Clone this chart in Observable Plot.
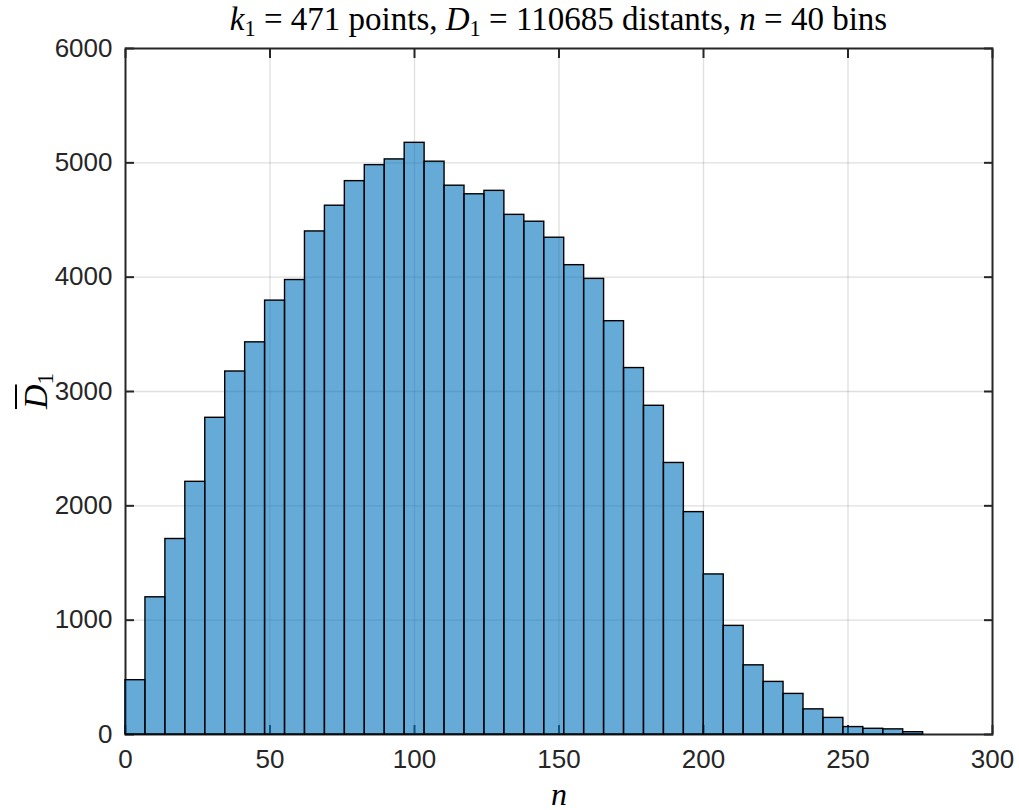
<!DOCTYPE html>
<html>
<head>
<meta charset="utf-8">
<script src="https://cdn.jsdelivr.net/npm/d3@7"></script>
<script src="https://cdn.jsdelivr.net/npm/@observablehq/plot@0.6"></script>
<style>
  body { margin: 0; background: #fff; }
  #wrap { position: relative; width: 1019px; height: 810px; background: #fff; }
  #title { position: absolute; top: 1px; left: 125px; width: 867px; text-align: center;
           font-family: "Liberation Serif", "DejaVu Serif", serif; font-size: 33px; color: #000; white-space: nowrap; }
  #title sub, #ylab sub { font-size: 0.68em; vertical-align: -0.28em; line-height: 0; font-style: normal; }
  #ylab { position: absolute; left: 36px; top: 391px; transform: translate(-50%, -50%) rotate(-90deg);
          font-family: "Liberation Serif", "DejaVu Serif", serif; font-size: 34px; color: #000; white-space: nowrap; }
  #ylab .ol { text-decoration: overline; text-decoration-thickness: 2px; }
</style>
</head>
<body>
<div id="wrap">
  <div id="chart"></div>
  <div id="title"><i>k</i><sub>1</sub> = 471 points, <i>D</i><sub>1</sub> = 110685 distants, <i>n</i> = 40 bins</div>
  <div id="ylab"><span class="ol"><i>D</i></span><sub>1</sub></div>
</div>
<script>
// Histogram counts (40 bins)
const counts = [475, 1200, 1710, 2210, 2770, 3175, 3430, 3795, 3975, 4400,
                4625, 4840, 4980, 5030, 5175, 5010, 4800, 4725, 4755, 4545,
                4485, 4345, 4105, 3985, 3615, 3205, 2875, 2375, 1945, 1400,
                950, 605, 460, 355, 220, 145, 65, 50, 45, 20];
const binStart = 0;
const binWidth = 6.9;
const xTicks = [0, 50, 100, 150, 200, 250, 300];
const yTicks = [0, 1000, 2000, 3000, 4000, 5000, 6000];
const xLabel = "n";

const bins = counts.map((c, i) => ({x1: binStart + i * binWidth, x2: binStart + (i + 1) * binWidth, count: c}));
const axisColor = "#262626";
const fmt = d3.format("d");

const chart = Plot.plot({
  width: 1019,
  height: 810,
  marginLeft: 125,
  marginRight: 27,
  marginTop: 48,
  marginBottom: 76,
  style: {fontFamily: "'Liberation Sans', Arial, sans-serif", fontSize: "26px", color: axisColor, background: "white"},
  x: {domain: [0, 300], ticks: xTicks, label: null},
  y: {domain: [0, 6000], ticks: yTicks, label: null},
  marks: [
    Plot.gridX(xTicks.slice(1, -1), {stroke: axisColor, strokeOpacity: 0.15, strokeWidth: 1.3}),
    Plot.gridY(yTicks.slice(1, -1), {stroke: axisColor, strokeOpacity: 0.15, strokeWidth: 1.3}),
    Plot.frame({stroke: axisColor, strokeWidth: 2}),
    Plot.axisX(xTicks, {anchor: "bottom", tickSize: -9, tickPadding: 24, strokeWidth: 2, stroke: axisColor, fill: axisColor,
      fontSize: 26, tickFormat: fmt, label: null}),
    Plot.axisX(xTicks, {anchor: "top", tickSize: -9, strokeWidth: 2, stroke: axisColor, tickFormat: () => "", label: null}),
    Plot.axisY(yTicks, {anchor: "left", tickSize: -9, tickPadding: 22, strokeWidth: 2, stroke: axisColor, fill: axisColor,
      fontSize: 26, tickFormat: fmt, label: null}),
    Plot.axisY(yTicks, {anchor: "right", tickSize: -9, strokeWidth: 2, stroke: axisColor, tickFormat: () => "", label: null}),
    Plot.rect(bins, {x1: "x1", x2: "x2", y1: 0, y2: "count", fill: "#0072BD", fillOpacity: 0.6, stroke: "black", strokeWidth: 1.4}),
    Plot.text([xLabel], {frameAnchor: "bottom", dy: 70, text: d => d, fontStyle: "italic",
      fontFamily: "'Liberation Serif', serif", fontSize: 32, fill: "#000"})
  ]
});
document.getElementById("chart").appendChild(chart);
</script>
</body>
</html>
